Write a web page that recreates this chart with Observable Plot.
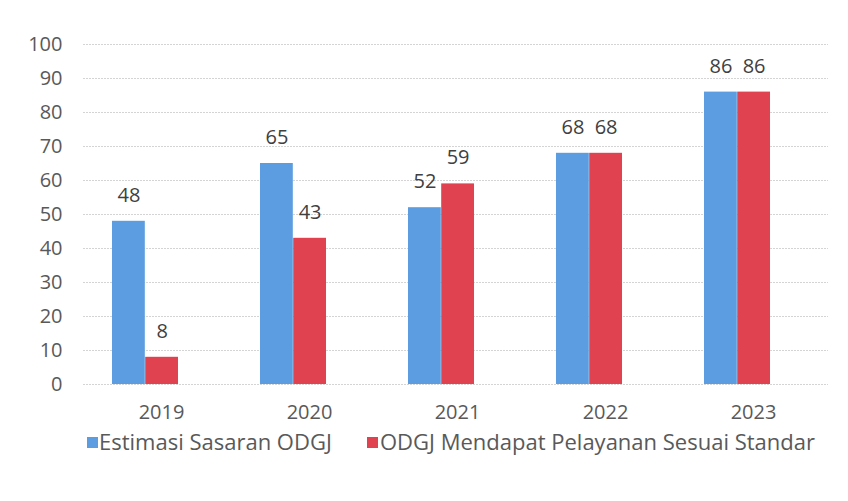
<!DOCTYPE html>
<html>
<head>
<meta charset="utf-8">
<script src="https://cdn.jsdelivr.net/npm/d3@7"></script>
<script src="https://cdn.jsdelivr.net/npm/@observablehq/plot@0.6"></script>
<style>
  html, body { margin: 0; padding: 0; background: #fff; }
  #wrap { position: relative; width: 848px; height: 501px; font-family: "Open Sans", sans-serif; }
  .lg { position: absolute; font-size: 22px; color: #595959; white-space: nowrap; line-height: 1; }
  .sw { position: absolute; width: 11px; height: 11px; }
</style>
</head>
<body>
<div id="wrap">
  <div id="chart"></div>
  <div id="legend"></div>
</div>
<script>
const years = ["2019", "2020", "2021", "2022", "2023"];
const estimasi = [48, 65, 52, 68, 86];
const pelayanan = [8, 43, 59, 68, 86];
const seriesNames = ["Estimasi Sasaran ODGJ", "ODGJ Mendapat Pelayanan Sesuai Standar"];
const seriesColors = ["#5b9de0", "#e0424f"];
const yTicks = [0, 10, 20, 30, 40, 50, 60, 70, 80, 90, 100];

const rowsA = years.map((y, i) => ({year: y, series: seriesNames[0], value: estimasi[i]}));
const rowsB = years.map((y, i) => ({year: y, series: seriesNames[1], value: pelayanan[i]}));

const half = 33.2; // one bar width within the group band

const chart = Plot.plot({
  width: 848,
  height: 425,
  marginLeft: 83,
  marginRight: 20,
  marginTop: 44,
  marginBottom: 41,
  style: {fontFamily: "Open Sans, sans-serif", fontSize: "20px", color: "#595959", background: "#fff", overflow: "visible"},
  x: {domain: years, range: [69.8, 811.8], paddingInner: 0.553, paddingOuter: 0.2765, label: null},
  y: {domain: [0, 100], label: null},
  color: {domain: seriesNames, range: seriesColors},
  marks: [
    Plot.gridY(yTicks, {stroke: "#d4d4d4", strokeOpacity: 1, strokeDasharray: "2,1"}),
    Plot.axisY(yTicks, {tickSize: 0, tickPadding: 21, fill: "#595959", fontSize: 20, label: null}),
    Plot.axisX({tickSize: 0, tickPadding: 20, dx: 16, fill: "#595959", fontSize: 20, label: null}),
    Plot.barY(rowsA, {x: "year", y: "value", fill: "series", insetRight: half}),
    Plot.barY(rowsB, {x: "year", y: "value", fill: "series", insetLeft: half}),
    Plot.text(rowsA, {x: "year", y: "value", text: d => String(d.value), dx: -half / 2, dy: -26, fill: "#404040", fontSize: 20}),
    Plot.text(rowsB, {x: "year", y: "value", text: d => String(d.value), dx: half / 2, dy: -26, fill: "#404040", fontSize: 20})
  ]
});
document.getElementById("chart").appendChild(chart);

// Legend below the SVG
const legend = document.getElementById("legend");
const legendPos = [{sw: 87, tx: 99}, {sw: 367, tx: 380}];
seriesNames.forEach((name, i) => {
  const sw = document.createElement("div");
  sw.className = "sw";
  sw.style.left = legendPos[i].sw + "px";
  sw.style.top = "437px";
  sw.style.background = seriesColors[i];
  legend.appendChild(sw);
  const t = document.createElement("div");
  t.className = "lg";
  t.style.left = legendPos[i].tx + "px";
  t.style.top = "430px";
  t.textContent = name;
  legend.appendChild(t);
});
</script>
</body>
</html>
